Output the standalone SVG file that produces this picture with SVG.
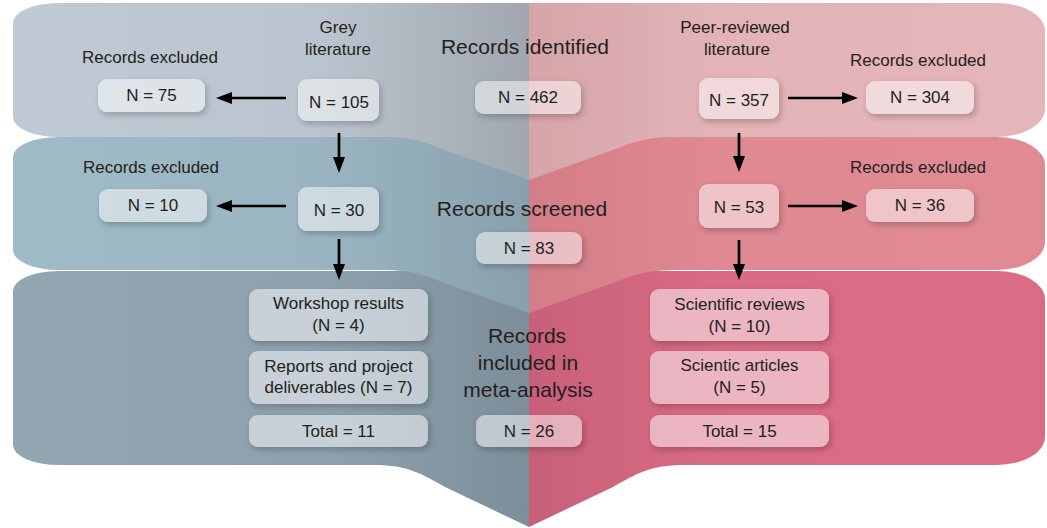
<svg xmlns="http://www.w3.org/2000/svg" width="1047" height="528" viewBox="0 0 1047 528">
<style>
.t{font-family:"Liberation Sans",Arial,sans-serif;font-size:17px;fill:#231f20;text-anchor:middle}
.h{font-family:"Liberation Sans",Arial,sans-serif;font-size:21px;fill:#231f20;text-anchor:middle}
.box{fill:#ffffff;fill-opacity:0.5;filter:url(#sh)}
.arr{stroke:#000;stroke-width:2.7;fill:none;marker-end:url(#ah)}
</style>
<defs>
<linearGradient id="g1" gradientUnits="userSpaceOnUse" x1="13" y1="0" x2="1045" y2="0">
<stop offset="0" stop-color="#c0cad4"/><stop offset="0.3" stop-color="#bbc4ce"/><stop offset="0.5" stop-color="#a0a7b1"/>
<stop offset="0.5" stop-color="#d5a5a8"/><stop offset="0.68" stop-color="#e2b3b7"/><stop offset="1" stop-color="#e4b5b9"/>
</linearGradient>
<linearGradient id="g2" gradientUnits="userSpaceOnUse" x1="13" y1="0" x2="1045" y2="0">
<stop offset="0" stop-color="#9fbbc7"/><stop offset="0.3" stop-color="#9ab5c1"/><stop offset="0.5" stop-color="#88a0ac"/>
<stop offset="0.5" stop-color="#d37d87"/><stop offset="0.68" stop-color="#df8992"/><stop offset="1" stop-color="#e08b94"/>
</linearGradient>
<linearGradient id="g3" gradientUnits="userSpaceOnUse" x1="13" y1="0" x2="1045" y2="0">
<stop offset="0" stop-color="#92a6b2"/><stop offset="0.3" stop-color="#8ea2ae"/><stop offset="0.5" stop-color="#7c8e99"/>
<stop offset="0.5" stop-color="#c86079"/><stop offset="0.68" stop-color="#d96b84"/><stop offset="1" stop-color="#db6c85"/>
</linearGradient>
<filter id="sh" x="-15%" y="-30%" width="135%" height="180%">
<feComponentTransfer in="SourceAlpha" result="m"><feFuncA type="linear" slope="20"/></feComponentTransfer>
<feGaussianBlur in="m" stdDeviation="3" result="bl"/>
<feOffset in="bl" dx="2" dy="3" result="of"/>
<feComponentTransfer in="of" result="of2"><feFuncA type="linear" slope="0.22"/></feComponentTransfer>
<feComposite in="of2" in2="m" operator="out" result="s"/>
<feMerge><feMergeNode in="s"/><feMergeNode in="SourceGraphic"/></feMerge>
</filter>
<marker id="ah" markerUnits="userSpaceOnUse" markerWidth="16" markerHeight="12" refX="6" refY="6" orient="auto">
<path d="M0,0 L16,6 L0,12 Z" fill="#000"/>
</marker>
</defs>

<g id="bands">
<path id="band3" fill="url(#g3)" d="M59,271 L997,271 A48,28 0 0 1 1045,299 L1045,437 A48,28 0 0 1 997,465 L684,465 C650,465 636,474 613,487 L529,527 L445,487 C422,474 408,465 374,465 L59,465 A46,20 0 0 1 13,445 L13,291 A46,20 0 0 1 59,271 Z"/>
<path id="band2" fill="url(#g2)" d="M59,137 L997,137 A48,28 0 0 1 1045,165 L1045,242 A48,28 0 0 1 997,270 L673,270 C648,270 633,275 613,283 L529,313 L445,283 C425,275 410,270 385,270 L59,270 A46,20 0 0 1 13,250 L13,157 A46,20 0 0 1 59,137 Z"/>
<path id="band1" fill="url(#g1)" d="M59,3 L997,3 A48,28 0 0 1 1045,31 L1045,109 A48,28 0 0 1 997,137 L673,137 C648,137 633,142 613,150 L529,180 L445,150 C425,142 410,137 385,137 L59,137 A46,20 0 0 1 13,117 L13,23 A46,20 0 0 1 59,3 Z"/>
</g>

<g id="labels">
<text class="h" x="525" y="54">Records identified</text>
<text class="h" x="522" y="216">Records screened</text>
<text class="h" x="527" y="343">Records</text>
<text class="h" x="528" y="370">included in</text>
<text class="h" x="528" y="397">meta-analysis</text>
<text class="t" x="338" y="33">Grey</text>
<text class="t" x="338" y="55">literature</text>
<text class="t" x="735" y="33">Peer-reviewed</text>
<text class="t" x="737" y="55">literature</text>
<text class="t" x="150" y="62.5">Records excluded</text>
<text class="t" x="151" y="172.5">Records excluded</text>
<text class="t" x="918" y="65.5">Records excluded</text>
<text class="t" x="918" y="172.5">Records excluded</text>
</g>

<g id="connectors">
<path class="arr" d="M286,98 L226,98"/>
<path class="arr" d="M286,206 L226,206"/>
<path class="arr" d="M339,133 L339,163"/>
<path class="arr" d="M339,239 L339,270"/>
<path class="arr" d="M788,98 L848,98"/>
<path class="arr" d="M788,206 L848,206"/>
<path class="arr" d="M739,133 L739,162"/>
<path class="arr" d="M739,240 L739,270"/>
</g>

<g id="n75"><rect class="box" x="98" y="79" width="107" height="33" rx="9"/><text class="t" x="151.5" y="101">N = 75</text></g>
<g id="n105"><rect class="box" x="298" y="79" width="81" height="42" rx="9"/><text class="t" x="339" y="108">N = 105</text></g>
<g id="n462"><rect class="box" x="475" y="81" width="106" height="33" rx="9"/><text class="t" x="528" y="103">N = 462</text></g>
<g id="n357"><rect class="box" x="699" y="78" width="80" height="41" rx="9"/><text class="t" x="739" y="106">N = 357</text></g>
<g id="n304"><rect class="box" x="866" y="81" width="108" height="33" rx="9"/><text class="t" x="920" y="103">N = 304</text></g>
<g id="n10"><rect class="box" x="99" y="189" width="108" height="33" rx="9"/><text class="t" x="153" y="211">N = 10</text></g>
<g id="n30"><rect class="box" x="298" y="187" width="81" height="44" rx="9"/><text class="t" x="339" y="216">N = 30</text></g>
<g id="n83"><rect class="box" x="476" y="232" width="106" height="32" rx="9"/><text class="t" x="529" y="254">N = 83</text></g>
<g id="n53"><rect class="box" x="699" y="184" width="80" height="44" rx="9"/><text class="t" x="739" y="213">N = 53</text></g>
<g id="n36"><rect class="box" x="866" y="189" width="108" height="33" rx="9"/><text class="t" x="920" y="211">N = 36</text></g>
<g id="workshop"><rect class="box" x="249" y="289" width="179" height="52" rx="9"/><text class="t" x="338.5" y="309">Workshop results</text><text class="t" x="338.5" y="331">(N = 4)</text></g>
<g id="reports"><rect class="box" x="249" y="351" width="179" height="53" rx="9"/><text class="t" x="338.5" y="372">Reports and project</text><text class="t" x="338.5" y="393">deliverables (N = 7)</text></g>
<g id="total11"><rect class="box" x="249" y="415" width="179" height="32" rx="9"/><text class="t" x="338.5" y="437">Total = 11</text></g>
<g id="n26"><rect class="box" x="476" y="415" width="106" height="32" rx="9"/><text class="t" x="529" y="437">N = 26</text></g>
<g id="scireviews"><rect class="box" x="650" y="289" width="179" height="52" rx="9"/><text class="t" x="739.5" y="310">Scientific reviews</text><text class="t" x="739.5" y="332">(N = 10)</text></g>
<g id="sciarticles"><rect class="box" x="650" y="351" width="179" height="53" rx="9"/><text class="t" x="739.5" y="371">Scientic articles</text><text class="t" x="739.5" y="393">(N = 5)</text></g>
<g id="total15"><rect class="box" x="650" y="415" width="179" height="32" rx="9"/><text class="t" x="739.5" y="437">Total = 15</text></g>
</svg>
